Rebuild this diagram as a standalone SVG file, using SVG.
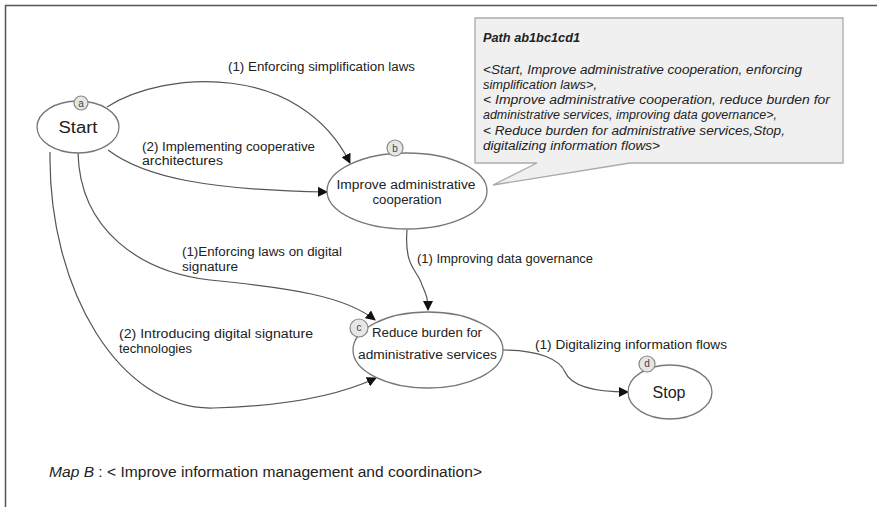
<svg xmlns="http://www.w3.org/2000/svg" width="879" height="507" viewBox="0 0 879 507">
<defs>
<marker id="arr" markerWidth="10" markerHeight="10" refX="9" refY="5" orient="auto" markerUnits="userSpaceOnUse">
<path d="M0,0 L10,5 L0,10 Z" fill="#111"/>
</marker>
<style>
.node{fill:#fff;stroke:#777;stroke-width:1.3}
.tag{fill:#e6e6e6;stroke:#888;stroke-width:1.2}
.tagt{font-family:"Liberation Sans",Arial,sans-serif;font-size:10px;fill:#444;text-anchor:middle}
.nt{font-family:"Liberation Sans",Arial,sans-serif;font-size:12px;fill:#222;text-anchor:middle}
.big{font-size:16px}
.lbl{font-family:"Liberation Sans",Arial,sans-serif;font-size:12px;fill:#222}
.edge{fill:none;stroke:#555;stroke-width:1.2;marker-end:url(#arr)}
.call{font-family:"Liberation Sans",Arial,sans-serif;font-size:12px;font-style:italic;fill:#222}
</style>
</defs>
<rect width="879" height="507" fill="#fff"/>
<path d="M5.5,507 L5.5,5.5 L877,5.5" fill="none" stroke="#555" stroke-width="1.5"/>

<g id="callout">
<path d="M475,18 L843,18 L843,163 L630,163 L493,185 L537,163 L475,163 Z" fill="#f0f0f0" stroke="#aaa" stroke-width="1.3"/>
<text class="call" x="483" y="42" font-weight="bold" textLength="97" lengthAdjust="spacingAndGlyphs">Path ab1bc1cd1</text>
<text class="call" x="483" y="74" textLength="319" lengthAdjust="spacingAndGlyphs">&lt;Start, Improve administrative cooperation, enforcing</text>
<text class="call" x="483" y="89" font-size="12.5px" textLength="114" lengthAdjust="spacingAndGlyphs">simplification laws&gt;,</text>
<text class="call" x="483" y="104" textLength="347" lengthAdjust="spacingAndGlyphs">&lt; Improve administrative cooperation, reduce burden for</text>
<text class="call" x="483" y="119" textLength="294" lengthAdjust="spacingAndGlyphs">administrative services, improving data governance&gt;,</text>
<text class="call" x="483" y="135" textLength="302" lengthAdjust="spacingAndGlyphs">&lt; Reduce burden for administrative services,Stop,</text>
<text class="call" x="483" y="150" textLength="177" lengthAdjust="spacingAndGlyphs">digitalizing information flows&gt;</text>
</g>

<g id="connectors">
<path class="edge" d="M107,107 C165,70 300,62 350,163"/>
<path class="edge" d="M108,150 C145,178 210,190 327,192"/>
<path class="edge" d="M78,153 C80,230 140,272 210,280 C290,288 345,296 375,320"/>
<path class="edge" d="M50,152 C48,290 120,410 213,408 C290,406 340,395 376,378"/>
<path class="edge" d="M407,230 C404,268 418,270 422,285 C427,296 428,300 428,310"/>
<path class="edge" d="M503,350 C540,350 560,360 565,372 C572,388 600,392 628,392"/>
<text class="lbl" x="228" y="71" textLength="187" lengthAdjust="spacingAndGlyphs">(1) Enforcing simplification laws</text>
<text class="lbl" x="142" y="151" textLength="173" lengthAdjust="spacingAndGlyphs">(2) Implementing cooperative</text>
<text class="lbl" x="142" y="165" textLength="81" lengthAdjust="spacingAndGlyphs">architectures</text>
<text class="lbl" x="182" y="256" textLength="160" lengthAdjust="spacingAndGlyphs">(1)Enforcing laws on digital</text>
<text class="lbl" x="182" y="271" textLength="56" lengthAdjust="spacingAndGlyphs">signature</text>
<text class="lbl" x="119" y="338" textLength="194" lengthAdjust="spacingAndGlyphs">(2) Introducing  digital signature</text>
<text class="lbl" x="119" y="353" textLength="73" lengthAdjust="spacingAndGlyphs">technologies</text>
<text class="lbl" x="417" y="263" textLength="176" lengthAdjust="spacingAndGlyphs">(1) Improving data governance</text>
<text class="lbl" x="535" y="349" textLength="192" lengthAdjust="spacingAndGlyphs">(1) Digitalizing information flows</text>
</g>

<g id="node-a">
<ellipse class="node" cx="78" cy="127" rx="41" ry="26"/>
<circle class="tag" cx="81" cy="103" r="7"/>
<text class="tagt" x="81" y="106.5">a</text>
<text class="nt big" x="78" y="133" textLength="39" lengthAdjust="spacingAndGlyphs">Start</text>
</g>

<g id="node-b">
<ellipse class="node" cx="407" cy="191" rx="80" ry="38"/>
<circle class="tag" cx="395" cy="148" r="8"/>
<text class="tagt" x="395" y="152">b</text>
<text class="nt" x="406" y="189" textLength="139" lengthAdjust="spacingAndGlyphs">Improve administrative</text>
<text class="nt" x="407" y="204" textLength="69" lengthAdjust="spacingAndGlyphs">cooperation</text>
</g>

<g id="node-c">
<ellipse class="node" cx="428" cy="350" rx="75" ry="38"/>
<circle class="tag" cx="359" cy="328" r="9"/>
<text class="tagt" x="359" y="331" font-size="8">c</text>
<text class="nt" x="427" y="337" textLength="110" lengthAdjust="spacingAndGlyphs">Reduce burden for</text>
<text class="nt" x="427.5" y="359" textLength="139" lengthAdjust="spacingAndGlyphs">administrative services</text>
</g>

<g id="node-d">
<ellipse class="node" cx="670" cy="392" rx="42" ry="27"/>
<circle class="tag" cx="647" cy="364" r="8"/>
<text class="tagt" x="647" y="367">d</text>
<text class="nt big" x="669" y="398" font-size="15" textLength="33" lengthAdjust="spacingAndGlyphs">Stop</text>
</g>

<text x="49" y="477" font-family="'Liberation Sans',Arial,sans-serif" font-size="14" fill="#222" textLength="433" lengthAdjust="spacingAndGlyphs"><tspan font-style="italic">Map B</tspan> : &lt; Improve information management and coordination&gt;</text>
</svg>
